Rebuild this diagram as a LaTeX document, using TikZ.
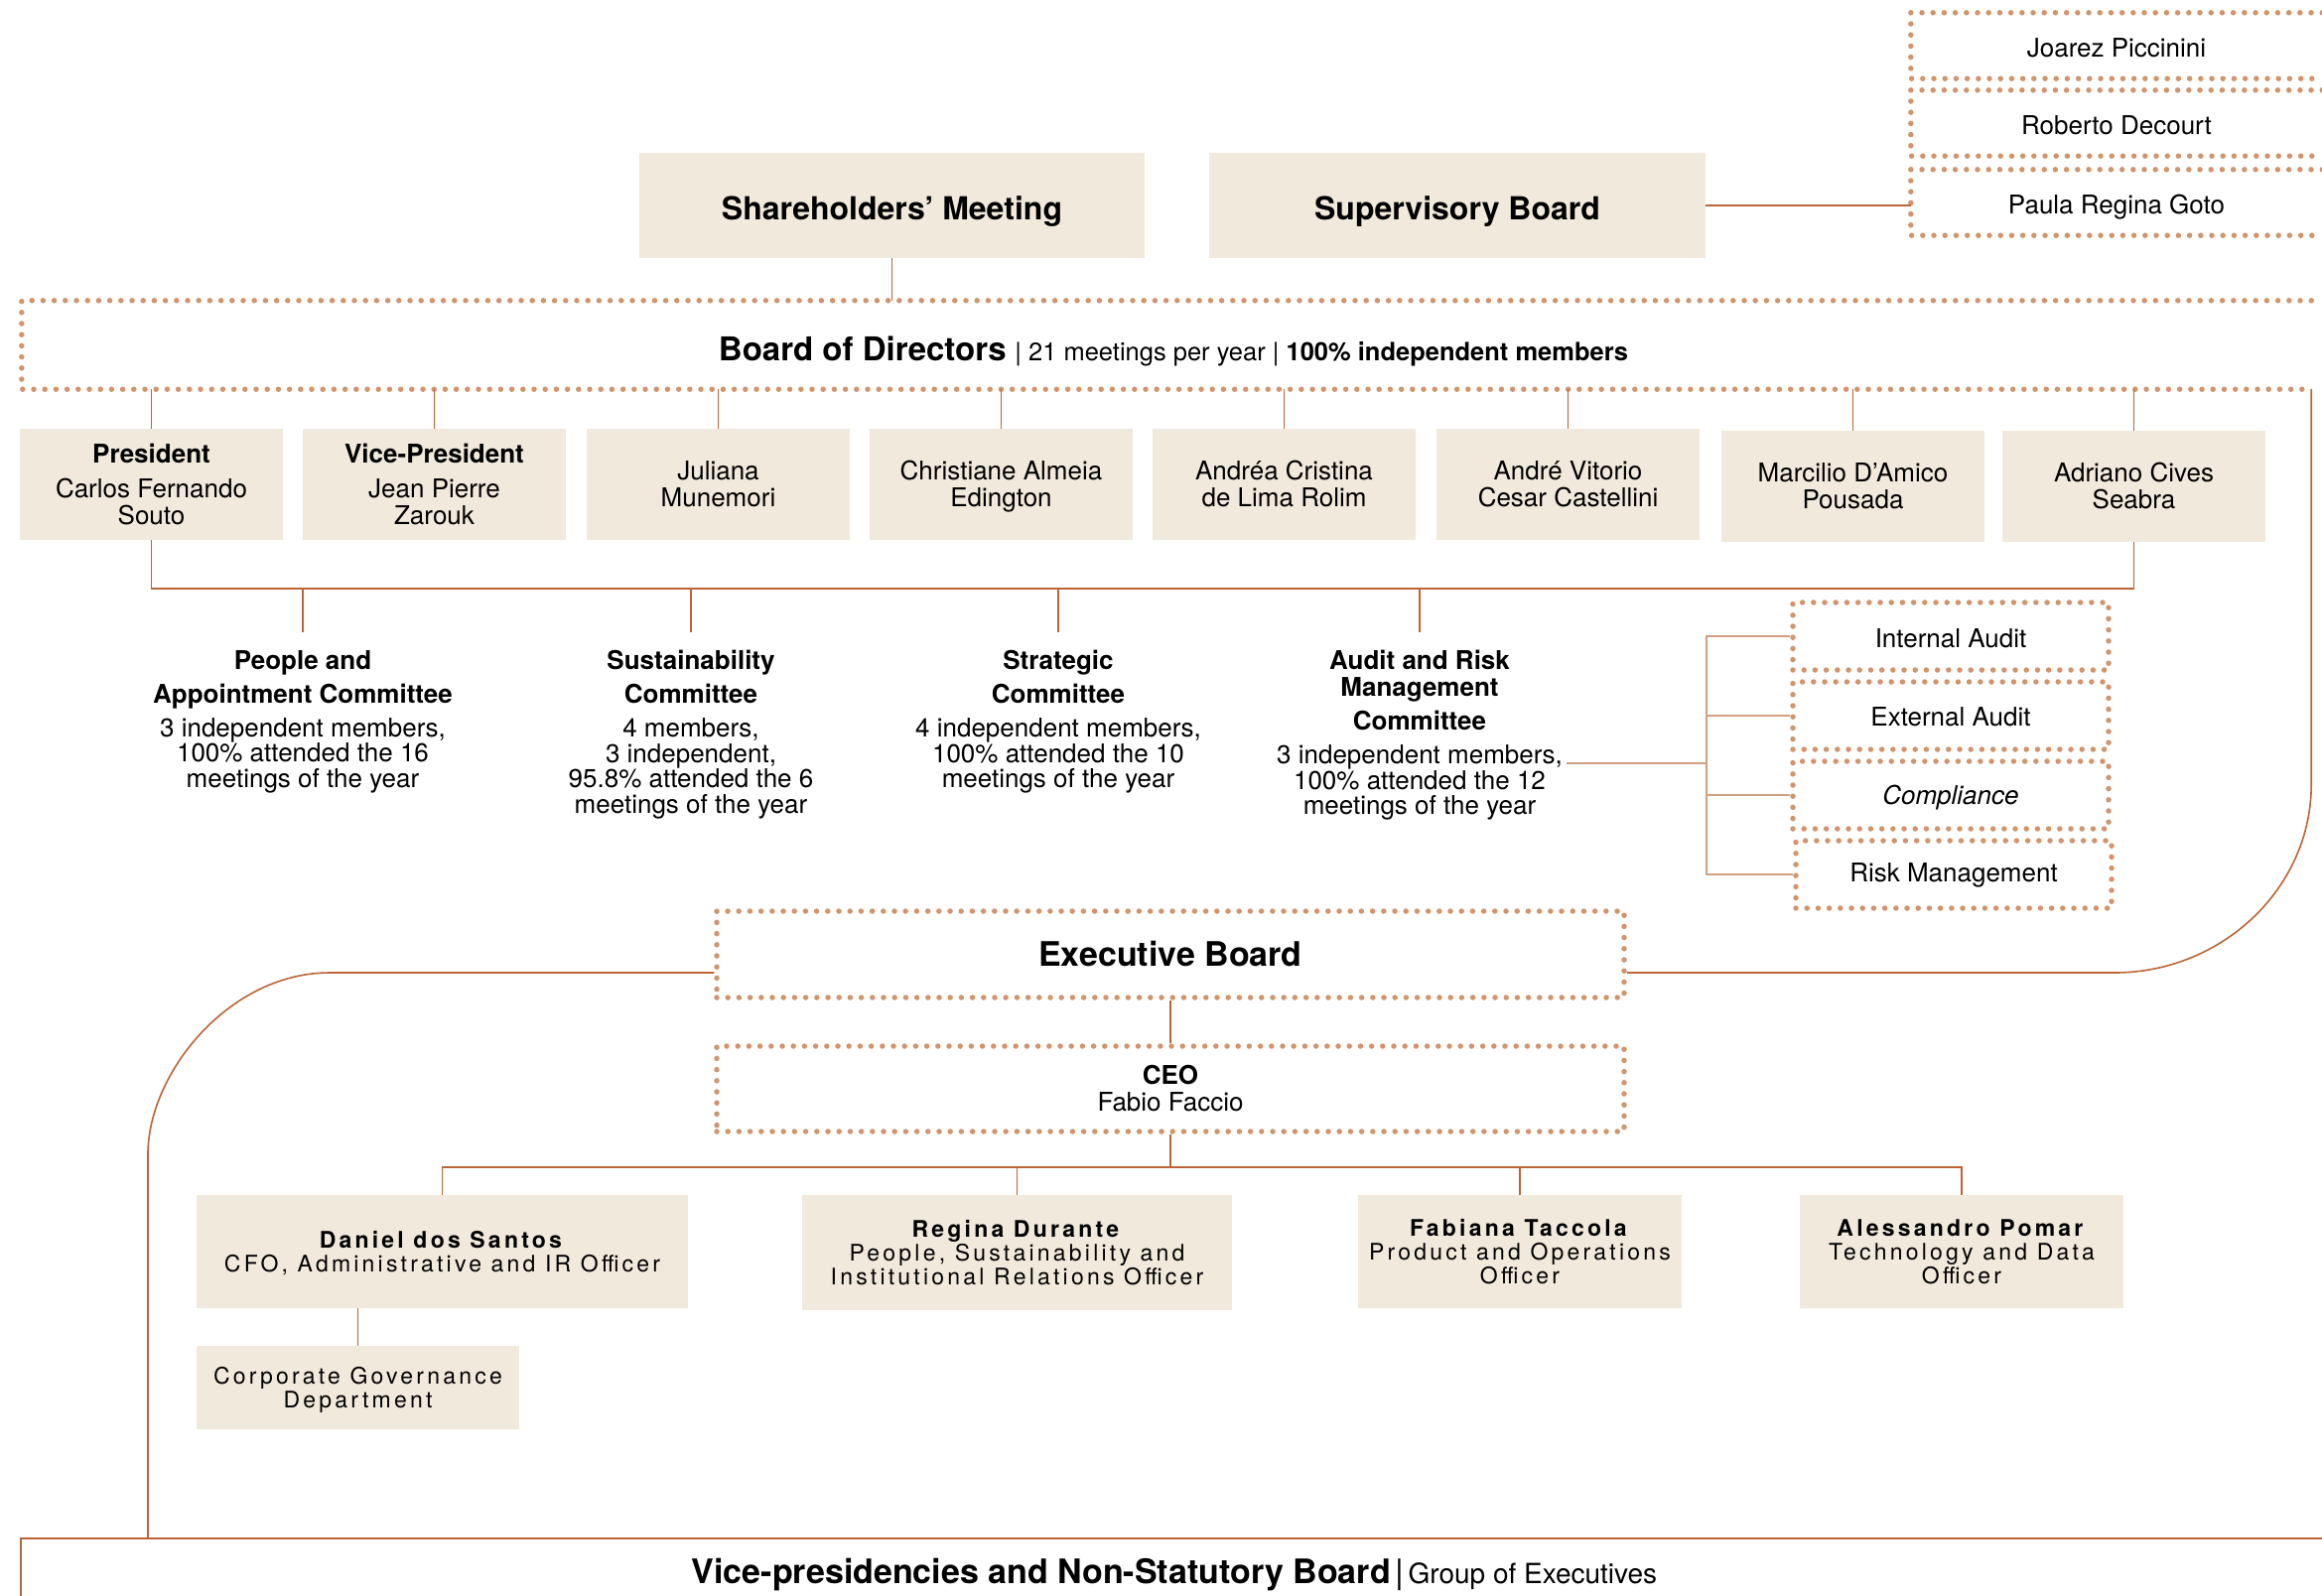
\documentclass[tikz,border=0pt]{standalone}
\usepackage{fontspec}
\setmainfont{TeX Gyre Heros}
\newfontfamily\trackedfont{TeX Gyre Heros}[LetterSpace=14]
\definecolor{beige}{RGB}{241,233,219}
\definecolor{dotc}{RGB}{210,148,108}
\definecolor{linec}{RGB}{188,100,55}
\definecolor{lightc}{RGB}{208,160,128}
% struts that centre a node on the middle of the capitals
\newcommand\ts{\rule{0pt}{0.97em}}
\newcommand\bs{\rule[-0.25em]{0pt}{0.25em}}
\newcommand\cs{\ts\bs}
% lower a line of text without changing the node size
\newcommand\lowered[2]{\raisebox{-#1}[\height][\depth]{#2}}
\begin{document}
\begin{tikzpicture}[x=1pt,y=-1pt,
  fillbox/.style={fill=beige, inner sep=0pt, align=center, text=black},
  plain/.style={inner sep=0pt, align=center, text=black},
  dotline/.style={draw=dotc, line width=5.5pt, line cap=round, dash pattern=on 0pt off 11.2pt},
  link/.style={draw=linec, line width=1.6pt},
  lightlink/.style={draw=lightc, line width=1.8pt},
  body/.style={font=\fontsize{26}{27}\selectfont},
  comm/.style={plain, anchor=north, font=\fontsize{26}{25.5}\selectfont},
  officer/.style={fillbox, minimum height=114pt, font=\trackedfont\fontsize{23}{24}\selectfont},
  director/.style={fillbox, body, minimum width=265pt, minimum height=112pt},
  member/.style={plain, body, minimum width=414pt, minimum height=66pt},
  auditbox/.style={plain, body, dotline, minimum width=318pt, minimum height=68pt}
]
\path[use as bounding box, clip] (0,0) rectangle (2339,1607);
\fill[white] (0,0) rectangle (2339,1607);

% ---------- top: shareholders and supervisory board ----------
\node[fillbox, minimum width=509pt, minimum height=106pt, font=\fontsize{32}{36}\selectfont\bfseries] (sh) at (898.5,207) {\lowered{3pt}{\cs Shareholders’ Meeting}};
\node[fillbox, minimum width=500pt, minimum height=106pt, font=\fontsize{32}{36}\selectfont\bfseries] (sup) at (1468,207) {\lowered{3pt}{\cs Supervisory Board}};

\node[member] (m1) at (2132,46) {\lowered{2.5pt}{\cs Joarez Piccinini}};
\node[member] (m2) at (2132,124) {\lowered{2.5pt}{\cs Roberto Decourt}};
\node[member] (m3) at (2132,204) {\lowered{2.5pt}{\cs Paula Regina Goto}};
\foreach \m in {m1,m2,m3}
  \draw[dotline] (\m.north east) -- (\m.north west) -- (\m.south west) -- (\m.south east);

\draw[link] (sup.east) -- (sup.east -| m3.west);

% ---------- board of directors ----------
\node[plain, minimum width=2306pt, minimum height=89pt] (bod) at (1175,347.5) {};
\node[plain] (bodtext) at (1182,352)
  {{\fontsize{33}{36}\selectfont\bfseries\cs Board of Directors}\,{\fontsize{25.5}{28}\selectfont\ |\ 21 meetings per year |\ \bfseries 100\% independent members}};
\draw[dotline] (bod.north east) -- (bod.north west) -- (bod.south west) -- (bod.south east);
\draw[link] (sh.south) -- (sh.south |- bod.north);

\node[director] (d1) at (152.5,488) {\ts\textbf{President}\\[8pt]Carlos Fernando\\Souto\bs};
\node[director] (d2) at (437.5,488) {\ts\textbf{Vice-President}\\[8pt]Jean Pierre\\Zarouk\bs};
\node[director] (d3) at (723.5,488) {\ts Juliana\\Munemori\bs};
\node[director] (d4) at (1008.5,488) {\ts Christiane Almeia\\Edington\bs};
\node[director] (d5) at (1293.5,488) {\ts Andréa Cristina\\de Lima Rolim\bs};
\node[director] (d6) at (1579.5,488) {\ts André Vitorio\\Cesar Castellini\bs};
\node[director] (d7) at (1866.5,490) {\ts Marcilio D’Amico\\Pousada\bs};
\node[director] (d8) at (2149.5,490) {\ts Adriano Cives\\Seabra\bs};
\foreach \i in {1,...,8}
  \draw[link] (d\i.north |- bod.south) -- (d\i.north);

% ---------- committees ----------
\coordinate (cbus) at (0,593);
\node[comm] (c1) at (305,655) {\textbf{People and}\\[8.5pt]\textbf{Appointment Committee}\\[8.5pt]3 independent members,\\100\% attended the 16\\meetings of the year};
\node[comm] (c2) at (696,655) {\textbf{Sustainability}\\[8.5pt]\textbf{Committee}\\[8.5pt]4 members,\\3 independent,\\95.8\% attended the 6\\meetings of the year};
\node[comm] (c3) at (1066,655) {\textbf{Strategic}\\[8.5pt]\textbf{Committee}\\[8.5pt]4 independent members,\\100\% attended the 10\\meetings of the year};
\node[comm] (c4) at (1430,655) {\textbf{Audit and Risk}\\[1.5pt]\textbf{Management}\\[8.5pt]\textbf{Committee}\\[8.5pt]3 independent members,\\100\% attended the 12\\meetings of the year};

\draw[link] (d1.south) |- (d8.south |- cbus) -- (d8.south);
\foreach \c in {c1,c2,c3,c4}
  \draw[link, shorten >=18pt] (\c.north |- cbus) -- (\c.north);

% ---------- audit functions ----------
\node[auditbox] (a1) at (1965,641) {\lowered{2pt}{\cs Internal Audit}};
\node[auditbox] (a2) at (1965,721) {\lowered{1pt}{\cs External Audit}};
\node[auditbox] (a3) at (1965,801) {\cs\itshape Compliance};
\node[auditbox] (a4) at (1968,881) {\lowered{-2pt}{\cs Risk Management}};
\coordinate (brk) at (1719,0);
\coordinate (aout) at (1578,769);
\draw[lightlink] (a1.west) -- (a1.west -| brk) -- (a4.west -| brk) -- (a4.west);
\draw[lightlink] (a2.west) -- (a2.west -| brk);
\draw[lightlink] (a3.west) -- (a3.west -| brk);
\draw[lightlink] (aout) -- (aout -| brk);

% ---------- executive board ----------
\node[plain, dotline, minimum width=914pt, minimum height=87pt, font=\fontsize{34}{36}\selectfont\bfseries] (exec) at (1179,961.5) {\cs Executive Board};
\node[plain, dotline, minimum width=914pt, minimum height=86pt, font=\fontsize{26}{27}\selectfont] (ceo) at (1179,1097) {\ts\textbf{CEO}\\Fabio Faccio\bs};
\draw[link] (exec.south) -- (ceo.north);

\node[officer, minimum width=495pt] (dan) at (445.5,1261) {\ts\textbf{Daniel dos Santos}\\CFO, Administrative and IR Officer\bs};
\node[officer, minimum width=433pt, minimum height=116pt] (reg) at (1024.5,1262) {\ts\textbf{Regina Durante}\\People, Sustainability and\\Institutional Relations Officer\bs};
\node[officer, minimum width=326pt] (fab) at (1531,1261) {\ts\textbf{Fabiana Taccola}\\Product and Operations\\Officer\bs};
\node[officer, minimum width=326pt] (ale) at (1976,1261) {\ts\textbf{Alessandro Pomar}\\Technology and Data\\Officer\bs};
\node[fillbox, minimum width=325pt, minimum height=84pt, font=\trackedfont\fontsize{23}{24}\selectfont] (cg) at (360.5,1398) {\ts Corporate Governance\\Department\bs};

\coordinate (obus) at (0,1176);
\draw[link] (ceo.south) -- (ceo.south |- obus);
\draw[link] (dan.north) |- (ale.north |- obus) -- (ale.north);
\draw[link] (reg.north |- obus) -- (reg.north);
\draw[link] (fab.north |- obus) -- (fab.north);
\draw[link] (dan.south -| cg.north) -- (cg.north);

% ---------- vice-presidencies ----------
\node[plain, minimum width=2324pt, minimum height=66pt] (vp) at (1183,1583)
  {{\fontsize{34}{36}\selectfont\bfseries\cs Vice-presidencies and Non-Statutory Board}\,\ {\fontsize{34}{36}\selectfont|}\ \,{\fontsize{28}{30}\selectfont Group of Executives}};
\draw[link] (vp.south west) -- (vp.north west) -- (vp.north east);

% ---------- reporting lines to the executive board ----------
\coordinate (ejoin) at (0,980);
\coordinate (lcurve) at (149,1163);
\draw[link] (bod.south east) -- ++(0,398) .. controls ++(0,105) and (2238,980) .. (2130,980) -- (exec.east |- ejoin);
\draw[link] (exec.west |- ejoin) -- (332,980) .. controls (231,980) and (149,1081) .. (lcurve) -- (lcurve |- vp.north);
\end{tikzpicture}
\end{document}
